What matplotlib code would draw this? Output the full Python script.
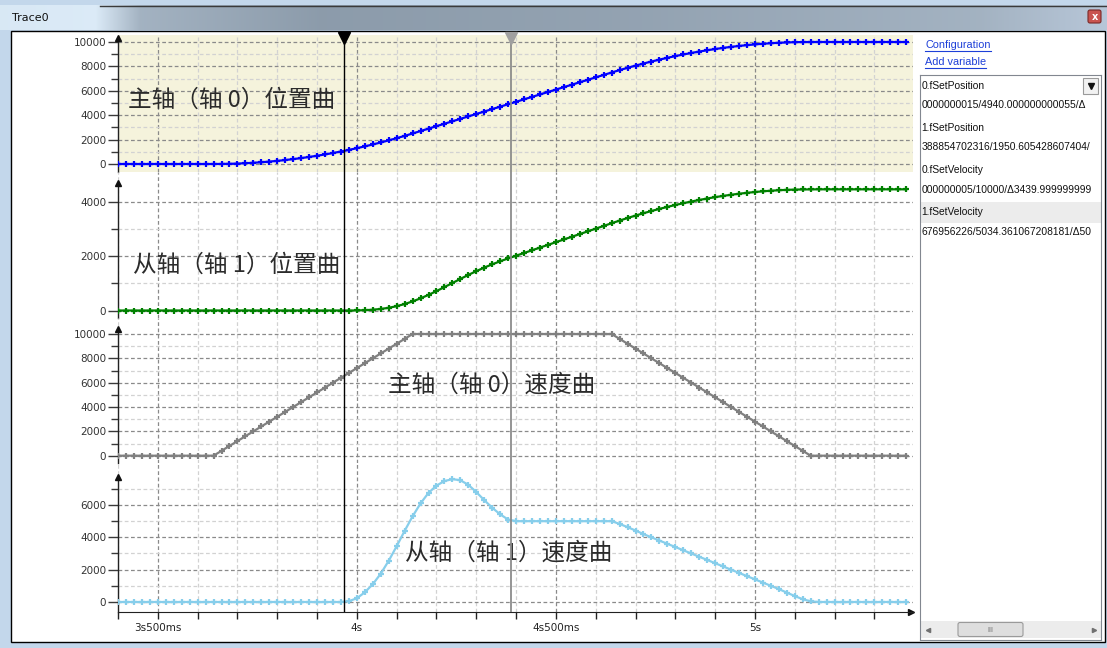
import numpy as np
import matplotlib.pyplot as plt
from matplotlib.patches import Rectangle, FancyBboxPatch
from matplotlib.ticker import FixedLocator, FuncFormatter

W, H = 1107, 648

# ---- values, one sample every 20 ms ----
time_s = np.round(np.arange(3.40, 5.39, 0.02), 2)

# master axis (axis 0) set position
master_position = ([0] * 13 +
                   [4, 16, 36, 64, 100, 144, 196, 256, 324, 400, 484, 576, 676,
                    784, 900, 1024, 1156, 1296, 1444, 1600, 1764, 1936, 2116, 2304, 2500] +
                   [2700, 2900, 3100, 3300, 3500, 3700, 3900, 4100, 4300, 4500, 4700,
                    4900, 5100, 5300, 5500, 5700, 5900, 6100, 6300, 6500, 6700, 6900,
                    7100, 7300, 7500] +
                   [7696, 7884, 8064, 8236, 8400, 8556, 8704, 8844, 8976, 9100, 9216,
                    9324, 9424, 9516, 9600, 9676, 9744, 9804, 9856, 9900, 9936, 9964,
                    9984, 9996, 10000] +
                   [10000] * 12)

# slave axis (axis 1) set position
slave_position = ([0] * 29 +
                  [0, 3, 12, 29, 57, 100, 160, 239, 336, 450, 578, 718, 865, 1016,
                   1167, 1315, 1455, 1586, 1707, 1820, 1925, 2026] +
                  [2126, 2226, 2326, 2426, 2526, 2626, 2726, 2826, 2926, 3026, 3126, 3226] +
                  [3324, 3419, 3509, 3596, 3678, 3756, 3830, 3900, 3966, 4028, 4086,
                   4140, 4190, 4236, 4278, 4316, 4350, 4380, 4406, 4428, 4446, 4460,
                   4469, 4475, 4477] +
                  [4480] * 12)

# master axis set velocity
master_velocity = ([0] * 13 +
                   [400, 800, 1200, 1600, 2000, 2400, 2800, 3200, 3600, 4000, 4400,
                    4800, 5200, 5600, 6000, 6400, 6800, 7200, 7600, 8000, 8400, 8800,
                    9200, 9600, 10000] +
                   [10000] * 25 +
                   [9600, 9200, 8800, 8400, 8000, 7600, 7200, 6800, 6400, 6000, 5600,
                    5200, 4800, 4400, 4000, 3600, 3200, 2800, 2400, 2000, 1600, 1200,
                    800, 400, 0] +
                   [0] * 12)

# slave axis set velocity
slave_velocity = ([0] * 29 +
                  [50, 230, 600, 1100, 1750, 2550, 3450, 4400, 5300, 6100, 6750, 7200,
                   7480, 7600, 7530, 7250, 6800, 6300, 5830, 5420, 5100, 5000] +
                  [5000] * 12 +
                  [4830, 4630, 4420, 4200, 4000, 3800, 3600, 3400, 3200, 3000, 2800,
                   2600, 2400, 2200, 2000, 1800, 1600, 1400, 1200, 1000, 800, 580,
                   370, 170, 40] +
                  [0] * 12)

x_major = [3.5, 4.0, 4.5, 5.0]
x_labels = ["3s500ms", "4s", "4s500ms", "5s"]
x_minor = [3.4, 3.6, 3.7, 3.8, 3.9, 4.1, 4.2, 4.3, 4.4, 4.6, 4.7, 4.8, 4.9, 5.1, 5.2, 5.3]

pos0_ticks = [0, 2000, 4000, 6000, 8000, 10000]
pos1_ticks = [0, 2000, 4000]
vel0_ticks = [0, 2000, 4000, 6000, 8000, 10000]
vel1_ticks = [0, 2000, 4000, 6000]

labels_cn = ["主轴（轴 0）位置曲", "从轴（轴 1）位置曲", "主轴（轴 0）速度曲", "从轴（轴 1）速度曲"]

cursor_a = 3.968
cursor_b = 4.387

# visible part of each row in the (scrolled) variable list
list_rows = ["0.fSetPosition", "0000000015/4940.000000000055/Δ",
             "1.fSetPosition", "388854702316/1950.605428607404/",
             "0.fSetVelocity", "000000005/10000/Δ3439.999999999",
             "1.fSetVelocity", "676956226/5034.361067208181/Δ50"]

CN = ['Noto Sans CJK SC', 'DejaVu Sans']
UI = ['Liberation Sans', 'DejaVu Sans']

fig = plt.figure(figsize=(W / 100, H / 100), dpi=100)


def px_box(x0, y0, x1, y1):
    return [x0 / W, 1 - y1 / H, (x1 - x0) / W, (y1 - y0) / H]


# ---- window chrome ----
chrome = fig.add_axes([0, 0, 1, 1], zorder=0)
chrome.set_xlim(0, W)
chrome.set_ylim(H, 0)
chrome.axis('off')
chrome.add_patch(Rectangle((0, 0), W, H, fc='#c3d7eb', ec='none'))

stops = [0, 95, 140, 320, 650, 980, W]
cols = np.array([[0.85, 0.91, 0.96], [0.86, 0.92, 0.97], [0.64, 0.70, 0.76],
                 [0.55, 0.61, 0.67], [0.58, 0.64, 0.70], [0.64, 0.70, 0.76],
                 [0.72, 0.78, 0.85]])
xs = np.arange(W)
grad = np.stack([np.interp(xs, stops, cols[:, k]) for k in range(3)], axis=-1)[None, :, :]
chrome.imshow(grad, extent=(0, W, 30, 5), aspect='auto', zorder=1)
chrome.plot([100, W], [5.5, 5.5], color='#3a3a3a', lw=1, zorder=2)
chrome.text(12, 18, "Trace0", fontsize=8, color='#111111', va='center', ha='left')
chrome.add_patch(FancyBboxPatch((1088, 10), 13, 13, boxstyle='round,pad=0,rounding_size=2',
                                fc='#c9544f', ec='#7a2a28', lw=0.8, zorder=3))
chrome.text(1094.5, 16.5, "x", color='white', fontsize=7, fontweight='bold',
            ha='center', va='center', zorder=4)

chrome.add_patch(Rectangle((11, 31), 1094, 611, fc='white', ec='black', lw=1, zorder=2))

links = []
for ytxt, s in [(45, "Configuration"), (62, "Add variable")]:
    links.append(chrome.text(925, ytxt, s, fontsize=7.8, family=UI, color='#1d3fd8',
                             va='center', ha='left', zorder=3))

# ---- trace panels ----
panels = [
    dict(top=35, bottom=172, ylim=(-656, 10574), tip=10330, ticks=pos0_ticks,
         data=master_position, color='#0000ff', face='#f5f3dc', text_at=(3.424, 5250)),
    dict(top=172, bottom=318, ylim=(-277, 5120), tip=4714, ticks=pos1_ticks,
         data=slave_position, color='#008000', face='none', text_at=(3.437, 1680)),
    dict(top=318, bottom=463, ylim=(-600, 11315), tip=10411, ticks=vel0_ticks,
         data=master_velocity, color='#808080', face='none', text_at=(4.078, 5810)),
    dict(top=463, bottom=612, ylim=(-619, 8598), tip=7732, ticks=vel1_ticks,
         data=slave_velocity, color='#87ceeb', face='none', text_at=(4.121, 3030)),
]

axes = []
for i, p in enumerate(panels):
    ax = fig.add_axes(px_box(118, p['top'], 913, p['bottom']), zorder=2)
    ax.set_facecolor(p['face'])
    ax.set_xlim(3.4, 5.397)
    ax.set_ylim(*p['ylim'])
    for s in ax.spines.values():
        s.set_visible(False)
    ax.set_axisbelow(True)

    minor_y = [v + 1000 for v in p['ticks'] if v + 1000 < p['tip']]
    ax.yaxis.set_major_locator(FixedLocator(p['ticks']))
    ax.yaxis.set_minor_locator(FixedLocator(minor_y))
    ax.yaxis.set_major_formatter(FuncFormatter(lambda v, _: f"{v:.0f}"))
    ax.tick_params(axis='y', which='major', direction='out', length=7, width=1,
                   color='#3a3a3a', labelsize=7.5, labelcolor='#333333', pad=1.5)
    ax.tick_params(axis='y', which='minor', direction='out', length=5, width=1,
                   color='#3a3a3a')

    ax.xaxis.set_major_locator(FixedLocator(x_major))
    ax.xaxis.set_minor_locator(FixedLocator(x_minor))
    ax.grid(True, which='major', axis='both', color='#8a8a8a', ls=(0, (3, 2)), lw=0.9)
    ax.grid(True, which='minor', axis='both', color='#d2d2d2', ls=(0, (3, 2)), lw=0.9)

    if i < 3:
        ax.tick_params(axis='x', which='both', length=0, labelbottom=False)
    else:
        ax.spines['bottom'].set_visible(True)
        ax.spines['bottom'].set_color('#222222')
        ax.set_xticklabels(x_labels)
        ax.tick_params(axis='x', which='both', direction='out', length=5, width=1,
                       color='#222222', labelsize=7.5, labelcolor='#222222', pad=3)
        ax.plot([5.393], [0], marker='>', ms=5, color='#111111',
                transform=ax.get_xaxis_transform(), clip_on=False)

    # y axis line with arrow head
    ax.plot([3.4, 3.4], [p['ylim'][0], p['tip']], color='#222222', lw=1, clip_on=False)
    ax.plot([3.4], [p['tip']], marker='^', ms=5, color='#111111', clip_on=False)

    ax.plot(time_s, p['data'], color=p['color'], lw=1.6, marker='+', ms=4.5, mew=1.6,
            zorder=3)

    ax.axvline(cursor_a, color='#000000', lw=1, zorder=5)
    ax.axvline(cursor_b, color='#8c8c8c', lw=1.3, zorder=5)

    ax.text(p['text_at'][0], p['text_at'][1], labels_cn[i], family=CN, fontsize=17,
            color='#2b2b2b', ha='left', va='center', zorder=4)
    axes.append(ax)

top_ax = axes[0]
top_ax.plot([cursor_a], [0.975], marker='v', ms=8, color='#000000',
            transform=top_ax.get_xaxis_transform(), clip_on=False, zorder=6)
top_ax.plot([cursor_b], [0.975], marker='v', ms=8, color='#a0a0a0',
            transform=top_ax.get_xaxis_transform(), clip_on=False, zorder=6)

# ---- variable list on the right ----
lst = fig.add_axes(px_box(920, 75, 1101, 640), zorder=3)
lst.set_xlim(920, 1101)
lst.set_ylim(640, 75)
lst.set_xticks([])
lst.set_yticks([])
for s in lst.spines.values():
    s.set_color('#828790')
lst.add_patch(Rectangle((920, 202), 181, 21, fc='#ececec', ec='none'))
row_y = [86, 105, 128, 147, 170, 190, 212, 232]
for yy, s in zip(row_y, list_rows):
    lst.text(921.5, yy, s, fontsize=7.4, family=UI, color='#111111', va='center',
             ha='left')
lst.add_patch(Rectangle((1083, 77.5), 15, 16, fc='#f2f2f2', ec='#9a9a9a', lw=0.8))
lst.plot([1090.5], [85.5], marker='v', ms=4.5, color='#111111')

lst.add_patch(Rectangle((920.5, 621), 180, 17, fc='#ececec', ec='none'))
lst.add_patch(FancyBboxPatch((958, 622.5), 65, 14, boxstyle='round,pad=0,rounding_size=2',
                             fc='#dedede', ec='#9a9a9a', lw=0.8))
lst.text(990.5, 629.5, "III", fontsize=5, color='#6a6a6a', ha='center', va='center')
lst.plot([928], [629.5], marker='<', ms=3, color='#707070')
lst.plot([1094], [629.5], marker='>', ms=3, color='#707070')

# underline the two links
fig.canvas.draw()
r = fig.canvas.get_renderer()
inv = chrome.transData.inverted()
for t in links:
    bb = t.get_window_extent(r)
    (x0, _), (x1, _) = inv.transform([[bb.x0, bb.y0], [bb.x1, bb.y1]])
    yy = t.get_position()[1] + 5.5
    chrome.plot([x0, x1], [yy, yy], color='#1d3fd8', lw=0.8, zorder=3)

fig.savefig('out.png', dpi=100)
